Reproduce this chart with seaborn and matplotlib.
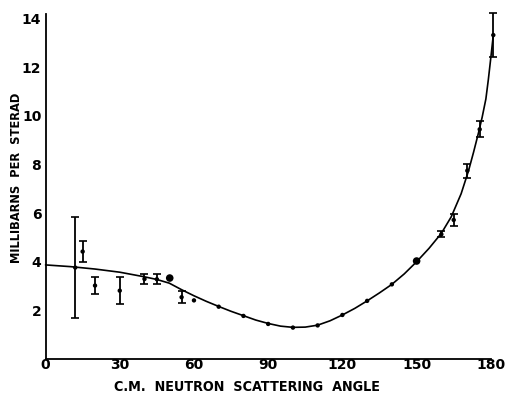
import matplotlib
matplotlib.use("Agg")
import matplotlib.pyplot as plt
import seaborn as sns
import pandas as pd

# smooth fitted curve
curve_deg = [0, 10, 20, 30, 40, 45, 50, 55, 60, 65, 70, 75, 80, 85, 90, 95, 100, 105,
             110, 115, 120, 125, 130, 135, 140, 145, 150, 155, 160, 164, 168, 171,
             173, 175, 176.5, 178, 179, 180, 181]
curve_val = [3.87, 3.80, 3.70, 3.57, 3.38, 3.27, 3.12, 2.85, 2.60, 2.37, 2.16, 1.96,
             1.78, 1.60, 1.46, 1.35, 1.30, 1.31, 1.39, 1.57, 1.81, 2.08, 2.39, 2.72,
             3.07, 3.50, 4.00, 4.55, 5.17, 5.85, 6.80, 7.75, 8.50, 9.30, 9.95, 10.70,
             11.50, 12.40, 13.33]

# points with error bars
err_deg = [12, 15, 20, 30, 40, 45, 55, 160, 165, 170.5, 175.5, 181]
err_val = [3.76, 4.42, 3.02, 2.81, 3.29, 3.28, 2.54, 5.13, 5.72, 7.75, 9.45, 13.33]
err_sd = [2.08, 0.45, 0.36, 0.55, 0.21, 0.20, 0.24, 0.13, 0.25, 0.29, 0.33, 0.90]

# points without error bars
dot_deg = [60, 70, 80, 90, 100, 110, 120, 130, 140]
dot_val = [2.41, 2.15, 1.77, 1.44, 1.29, 1.38, 1.81, 2.39, 3.07]

# larger dots
big_deg = [50.2, 150]
big_val = [3.33, 4.03]

x_ticks = [0, 30, 60, 90, 120, 150, 180]
y_ticks = [2, 4, 6, 8, 10, 12, 14]

sns.set_style("white")
plt.rcParams["font.family"] = ["DejaVu Sans"]
plt.rcParams["font.weight"] = "bold"
plt.rcParams["text.color"] = "black"
plt.rcParams["axes.labelcolor"] = "black"

fig = plt.figure(figsize=(5.06, 3.94), dpi=100)
ax = fig.add_axes([0.090, 0.089, 0.880, 0.8756])

curve = pd.DataFrame({"deg": curve_deg, "val": curve_val})
sns.lineplot(data=curve, x="deg", y="val", color="black", lw=1.2, ax=ax,
             sort=False, clip_on=False)

ax.errorbar(err_deg, err_val, yerr=err_sd, fmt="none", ecolor="black",
            elinewidth=1.3, capsize=3, capthick=1.2, clip_on=False)
sns.scatterplot(x=err_deg, y=err_val, color="black", s=10, edgecolor="none",
                ax=ax, clip_on=False)
sns.scatterplot(x=dot_deg, y=dot_val, color="black", s=10, edgecolor="none", ax=ax)
sns.scatterplot(x=big_deg, y=big_val, color="black", s=30, edgecolor="none", ax=ax)

ax.set_xlim(0, 180)
ax.set_ylim(0, 14.2)
ax.set_xticks(x_ticks)
ax.set_yticks(y_ticks)
ax.set_xticklabels([str(t) for t in x_ticks])
ax.set_yticklabels([str(t) for t in y_ticks])
ax.tick_params(direction="in", length=9, width=1.2, colors="black",
               labelsize=10, pad=3)
ax.tick_params(axis="x", pad=-1)

sns.despine(ax=ax)
for s in ["left", "bottom"]:
    ax.spines[s].set_color("black")
    ax.spines[s].set_linewidth(1.3)

ax.set_xlabel("C.M.  NEUTRON  SCATTERING  ANGLE", fontsize=10.3, fontweight="bold",
              fontstretch="condensed")
ax.set_ylabel("MILLIBARNS  PER  STERAD", fontsize=9.2, fontweight="bold",
              fontstretch="condensed")
ax.xaxis.set_label_coords(0.452, -0.060)
ax.yaxis.set_label_coords(-0.051, 0.525)

fig.savefig("out.png", dpi=100)
